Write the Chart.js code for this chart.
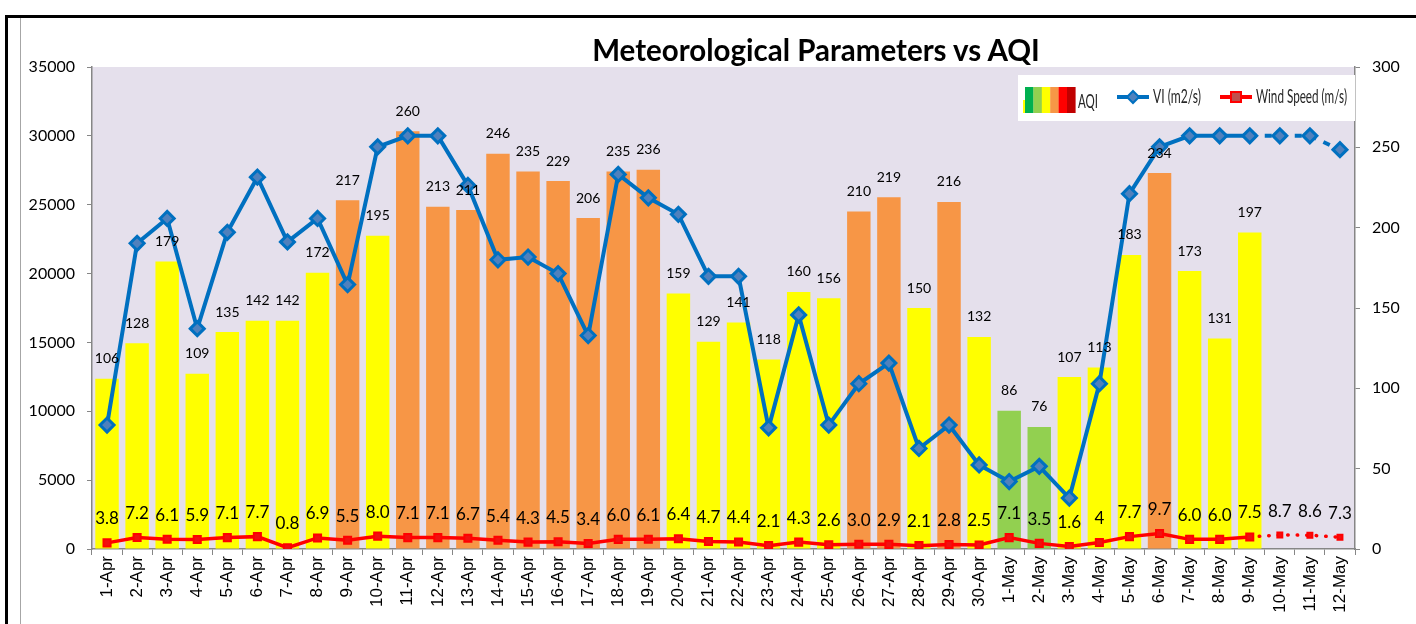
<!DOCTYPE html>
<html>
<head>
<meta charset="utf-8">
<script src="https://cdn.jsdelivr.net/npm/chart.js@4.4.1/dist/chart.umd.min.js"></script>
<style>
  html, body { margin: 0; padding: 0; background: #fff; width: 1416px; height: 624px; overflow: hidden; }
  #frame { position: absolute; left: 5px; top: 15px; right: 0; bottom: 0; border-top: 3px solid #000; border-left: 3px solid #000; }
  #inner { position: absolute; left: 20px; top: 18px; bottom: 0; border-left: 1px solid #a6a6a6; }
  #title { position: absolute; left: 516px; width: 600px; top: 32px; text-align: center;
           font: bold 29.5px Lato, sans-serif; color: #000; }
  #chart { position: absolute; left: 0; top: 0; }
</style>
</head>
<body>
<div id="frame"></div>
<div id="inner"></div>
<canvas id="chart" width="1416" height="624"></canvas>
<div id="title">Meteorological Parameters vs AQI</div>
<script>
// categories
const days = ['1-Apr','2-Apr','3-Apr','4-Apr','5-Apr','6-Apr','7-Apr','8-Apr','9-Apr','10-Apr',
  '11-Apr','12-Apr','13-Apr','14-Apr','15-Apr','16-Apr','17-Apr','18-Apr','19-Apr','20-Apr',
  '21-Apr','22-Apr','23-Apr','24-Apr','25-Apr','26-Apr','27-Apr','28-Apr','29-Apr','30-Apr',
  '1-May','2-May','3-May','4-May','5-May','6-May','7-May','8-May','9-May','10-May','11-May','12-May'];

// AQI (right axis) - no data for the last three days
const aqi = [106,128,179,109,135,142,142,172,217,195,
  260,213,211,246,235,229,206,235,236,159,
  129,141,118,160,156,210,219,150,216,132,
  86,76,107,113,183,234,173,131,197,null,null,null];

// ventilation index, m2/s (left axis)
const vi = [9000,22200,24000,16000,23000,27000,22300,24000,19200,29200,
  30000,30000,26400,21000,21200,20000,15500,27200,25500,24300,
  19800,19800,8800,17000,9000,12000,13500,7300,9000,6100,
  4900,6000,3700,12000,25800,29200,30000,30000,30000,30000,30000,29000];

// wind speed, m/s (right axis), as labelled
const windText = ['3.8','7.2','6.1','5.9','7.1','7.7','0.8','6.9','5.5','8.0',
  '7.1','7.1','6.7','5.4','4.3','4.5','3.4','6.0','6.1','6.4',
  '4.7','4.4','2.1','4.3','2.6','3.0','2.9','2.1','2.8','2.5',
  '7.1','3.5','1.6','4','7.7','9.7','6.0','6.0','7.5','8.7','8.6','7.3'];
const wind = windText.map(Number);

const leftTicks = { min: 0, max: 35000, step: 5000 };
const rightTicks = { min: 0, max: 300, step: 50 };
const lastMeasured = 38; // 9-May, later values are forecast (dotted)

const aqiSwatch = ['#00B050','#92D050','#FFFF00','#F79646','#FF0000','#C00000'];

function aqiColor(v) {
  if (v == null) return 'rgba(0,0,0,0)';
  if (v <= 100) return '#92D050';
  if (v <= 200) return '#FFFF00';
  return '#F79646';
}

// squeeze text to a width, like the condensed legend font of the original
function narrowText(ctx, text, x, y, width) {
  const k = width / ctx.measureText(text).width;
  ctx.save();
  ctx.translate(x, y);
  ctx.scale(Math.min(1, k), 1);
  ctx.fillText(text, 0, 0);
  ctx.restore();
}

const plotBg = {
  id: 'plotBg',
  beforeDraw(chart) {
    const { ctx, chartArea: a } = chart;
    ctx.save();
    ctx.fillStyle = '#E5E0EC';
    ctx.fillRect(a.left, a.top, a.right - a.left, a.bottom - a.top);
    ctx.restore();
  }
};

const valueLabels = {
  id: 'valueLabels',
  afterDatasetsDraw(chart) {
    const ctx = chart.ctx;
    ctx.save();
    ctx.textAlign = 'center';
    ctx.textBaseline = 'middle';
    ctx.fillStyle = '#000';
    ctx.font = '14px Lato';
    chart.getDatasetMeta(0).data.forEach((bar, i) => {
      if (aqi[i] == null) return;
      ctx.fillText(String(aqi[i]), bar.x, bar.y - 20);
    });
    ctx.font = '17px Lato';
    chart.getDatasetMeta(2).data.forEach((pt, i) => {
      ctx.fillText(windText[i], pt.x, pt.y - 24);
    });
    ctx.restore();
  }
};

const boxLegend = {
  id: 'boxLegend',
  afterDraw(chart) {
    const { ctx, chartArea: a } = chart;
    const x0 = a.right - 337, y0 = a.top + 8;
    ctx.save();
    ctx.fillStyle = '#fff';
    ctx.fillRect(x0, y0, 337, 46);
    // AQI colour strip
    ctx.fillStyle = '#FFFF00';
    ctx.fillRect(x0 + 5, y0 + 25, 2, 13);
    aqiSwatch.forEach((c, i) => {
      ctx.fillStyle = c;
      ctx.fillRect(x0 + 7 + i * 8.4, y0 + 12, 8.6, 26);
    });
    ctx.font = '20px Lato';
    ctx.fillStyle = '#262626';
    ctx.textBaseline = 'middle';
    narrowText(ctx, 'AQI', x0 + 60, y0 + 27, 20);

    const ly = y0 + 22;
    // VI
    ctx.strokeStyle = '#0070C0';
    ctx.lineWidth = 4;
    ctx.beginPath(); ctx.moveTo(x0 + 99, ly); ctx.lineTo(x0 + 131, ly); ctx.stroke();
    ctx.fillStyle = '#4F81BD';
    ctx.lineWidth = 2;
    ctx.beginPath();
    ctx.moveTo(x0 + 115, ly - 6); ctx.lineTo(x0 + 121, ly); ctx.lineTo(x0 + 115, ly + 6); ctx.lineTo(x0 + 109, ly);
    ctx.closePath(); ctx.fill(); ctx.stroke();
    ctx.fillStyle = '#262626';
    narrowText(ctx, 'VI (m2/s)', x0 + 135, ly, 48);
    // Wind speed
    ctx.strokeStyle = '#FF0000';
    ctx.lineWidth = 4;
    ctx.beginPath(); ctx.moveTo(x0 + 202, ly); ctx.lineTo(x0 + 234, ly); ctx.stroke();
    ctx.fillStyle = '#C0504D';
    ctx.lineWidth = 2;
    ctx.fillRect(x0 + 213, ly - 5, 10, 10);
    ctx.strokeRect(x0 + 213, ly - 5, 10, 10);
    ctx.fillStyle = '#262626';
    narrowText(ctx, 'Wind Speed (m/s)', x0 + 238, ly, 91);
    ctx.restore();
  }
};

const axisGrey = '#868686';
const tickFont = { family: 'Lato', size: 16 };
const plain = v => String(v);

new Chart(document.getElementById('chart'), {
  data: {
    labels: days,
    datasets: [
      {
        type: 'bar',
        label: 'AQI',
        data: aqi,
        yAxisID: 'y1',
        backgroundColor: aqi.map(aqiColor),
        barPercentage: 0.78,
        categoryPercentage: 1,
        order: 3
      },
      {
        type: 'line',
        label: 'VI (m2/s)',
        data: vi,
        yAxisID: 'y',
        borderColor: '#0070C0',
        borderWidth: 4,
        pointStyle: 'rectRot',
        pointRadius: 7,
        pointBackgroundColor: '#4F81BD',
        pointBorderColor: '#0070C0',
        pointBorderWidth: 3,
        segment: { borderDash: c => c.p0DataIndex >= lastMeasured ? [7, 8] : undefined },
        order: 2
      },
      {
        type: 'line',
        label: 'Wind Speed (m/s)',
        data: wind,
        yAxisID: 'y1',
        borderColor: '#FF0000',
        borderWidth: 3.5,
        borderCapStyle: 'round',
        pointStyle: 'rect',
        pointRadius: wind.map((v, i) => i <= lastMeasured ? 5 : 3.5),
        pointBackgroundColor: '#F01010',
        pointBorderColor: '#FF0000',
        pointBorderWidth: 2,
        segment: { borderDash: c => c.p0DataIndex >= lastMeasured ? [0.5, 9] : undefined },
        order: 1
      }
    ]
  },
  options: {
    responsive: false,
    animation: false,
    events: [],
    layout: { autoPadding: false, padding: { left: 20, right: 8, top: 67, bottom: 0 } },
    plugins: { legend: { display: false }, tooltip: { enabled: false }, title: { display: false } },
    scales: {
      x: {
        offset: true,
        grid: { offset: true, drawOnChartArea: false, color: axisGrey, tickLength: 6 },
        border: { color: axisGrey, width: 1.5 },
        ticks: { minRotation: 90, maxRotation: 90, autoSkip: false, padding: 1, color: '#000',
                 font: { family: 'Liberation Sans', size: 17 } },
        afterFit: s => { s.height = 75; }
      },
      y: {
        position: 'left',
        min: leftTicks.min, max: leftTicks.max,
        ticks: { stepSize: leftTicks.step, padding: 12, color: '#000', font: tickFont, callback: plain },
        grid: { drawOnChartArea: false, color: axisGrey, tickLength: 5 },
        border: { color: axisGrey, width: 1.5 },
        afterFit: s => { s.width = 72; }
      },
      y1: {
        position: 'right',
        min: rightTicks.min, max: rightTicks.max,
        ticks: { stepSize: rightTicks.step, padding: 12, color: '#000', font: tickFont, callback: plain },
        grid: { drawOnChartArea: false, color: axisGrey, tickLength: 5 },
        border: { color: axisGrey, width: 1.5 },
        afterFit: s => { s.width = 53; }
      }
    }
  },
  plugins: [plotBg, valueLabels, boxLegend]
});
</script>
</body>
</html>
